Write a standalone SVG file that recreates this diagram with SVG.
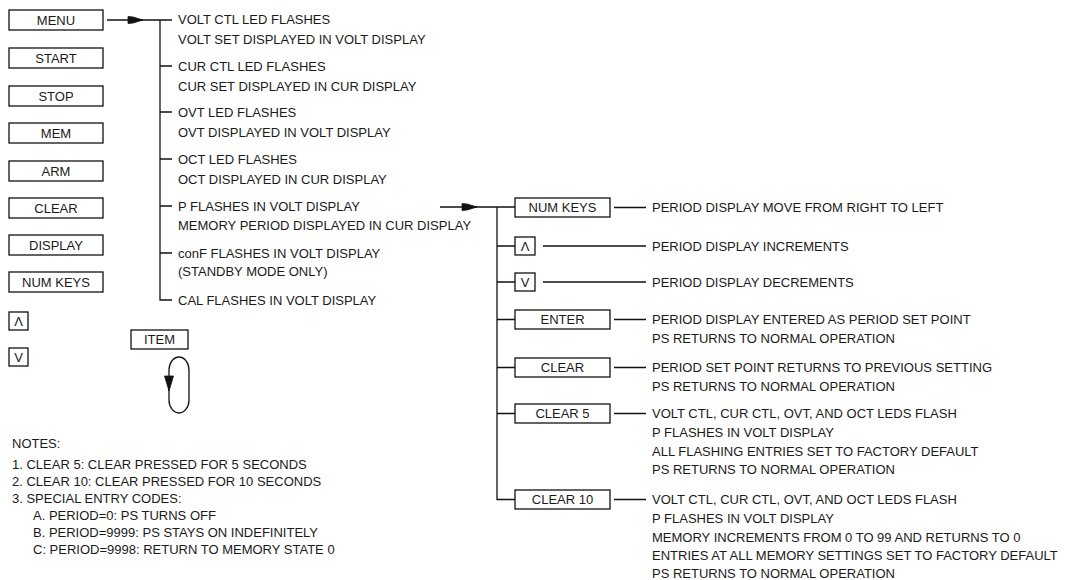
<svg xmlns="http://www.w3.org/2000/svg" width="1065" height="580" viewBox="0 0 1065 580">
<style>
  .t { font-family: "Liberation Sans", Arial, sans-serif; font-size: 13px; fill: #1a1a1a; }
  .c { text-anchor: middle; }
  .b { fill: #ffffff; stroke: #111111; stroke-width: 1.3; }
  .l { fill: none; stroke: #111111; stroke-width: 1.3; }
  .ah { fill: #111111; stroke: #111111; stroke-width: 0.8; }
</style>
<defs>
  <path id="arrowR" d="M-15,-3.5 L-10,-3 L0,0 L-10,3 L-15,3.5 Z"/>
</defs>
<rect width="1065" height="580" fill="#ffffff"/>

<!-- left key column -->
<g id="key-menu"><rect class="b" x="9" y="10" width="94" height="20"/><text class="t c" x="56" y="24.5">MENU</text></g>
<g id="key-start"><rect class="b" x="9" y="48" width="94" height="20"/><text class="t c" x="56" y="62.5">START</text></g>
<g id="key-stop"><rect class="b" x="9" y="86" width="94" height="20"/><text class="t c" x="56" y="100.5">STOP</text></g>
<g id="key-mem"><rect class="b" x="9" y="123" width="94" height="20"/><text class="t c" x="56" y="137.5">MEM</text></g>
<g id="key-arm"><rect class="b" x="9" y="161" width="94" height="20"/><text class="t c" x="56" y="175.5">ARM</text></g>
<g id="key-clear"><rect class="b" x="9" y="198" width="94" height="20"/><text class="t c" x="56" y="212.5">CLEAR</text></g>
<g id="key-display"><rect class="b" x="9" y="235" width="94" height="20"/><text class="t c" x="56" y="249.5">DISPLAY</text></g>
<g id="key-numkeys"><rect class="b" x="9" y="272" width="94" height="20"/><text class="t c" x="56" y="286.5">NUM KEYS</text></g>
<g id="key-up"><rect class="b" x="9" y="312" width="19" height="18"/><text class="t c" x="18.5" y="325.5">Λ</text></g>
<g id="key-down"><rect class="b" x="9" y="348" width="19" height="18"/><text class="t c" x="18.5" y="361.5">V</text></g>

<!-- ITEM key with loop -->
<g id="key-item">
  <rect class="b" x="131" y="330" width="57" height="19"/><text class="t c" x="159.5" y="344">ITEM</text>
  <rect class="l" x="169" y="357" width="20" height="56" rx="10" ry="13"/>
  <polygon class="ah" points="164.5,376 173.5,376 169,391"/>
</g>

<!-- menu items -->
<g id="menu-volt"><text class="t" x="178" y="23.5">VOLT CTL LED FLASHES</text><text class="t" x="178" y="43.5">VOLT SET DISPLAYED IN VOLT DISPLAY</text></g>
<g id="menu-cur"><text class="t" x="178" y="70.5">CUR CTL LED FLASHES</text><text class="t" x="178" y="90.5">CUR SET DISPLAYED IN CUR DISPLAY</text></g>
<g id="menu-ovt"><text class="t" x="178" y="116.5">OVT LED FLASHES</text><text class="t" x="178" y="136.5">OVT DISPLAYED IN VOLT DISPLAY</text></g>
<g id="menu-oct"><text class="t" x="178" y="163.5">OCT LED FLASHES</text><text class="t" x="178" y="183.5">OCT DISPLAYED IN CUR DISPLAY</text></g>
<g id="menu-p"><text class="t" x="178" y="210.5">P FLASHES IN VOLT DISPLAY</text><text class="t" x="178" y="230">MEMORY PERIOD DISPLAYED IN CUR DISPLAY</text></g>
<g id="menu-conf"><text class="t" x="178" y="257.5">conF FLASHES IN VOLT DISPLAY</text><text class="t" x="178" y="275.5">(STANDBY MODE ONLY)</text></g>
<g id="menu-cal"><text class="t" x="178" y="304.5">CAL FLASHES IN VOLT DISPLAY</text></g>

<!-- period keys -->
<g id="p-numkeys"><rect class="b" x="515" y="198" width="95" height="19"/><text class="t c" x="562.5" y="212">NUM KEYS</text>
  <text class="t" x="652" y="212">PERIOD DISPLAY MOVE FROM RIGHT TO LEFT</text></g>
<g id="p-up"><rect class="b" x="515" y="237" width="20" height="18"/><text class="t c" x="525" y="250.5">Λ</text>
  <text class="t" x="652" y="250.5">PERIOD DISPLAY INCREMENTS</text></g>
<g id="p-down"><rect class="b" x="515" y="273" width="20" height="18"/><text class="t c" x="525" y="286.5">V</text>
  <text class="t" x="652" y="286.5">PERIOD DISPLAY DECREMENTS</text></g>
<g id="p-enter"><rect class="b" x="515" y="310" width="95" height="19"/><text class="t c" x="562.5" y="324">ENTER</text>
  <text class="t" x="652" y="324">PERIOD DISPLAY ENTERED AS PERIOD SET POINT</text>
  <text class="t" x="652" y="343">PS RETURNS TO NORMAL OPERATION</text></g>
<g id="p-clear"><rect class="b" x="515" y="358" width="95" height="19"/><text class="t c" x="562.5" y="372">CLEAR</text>
  <text class="t" x="652" y="372">PERIOD SET POINT RETURNS TO PREVIOUS SETTING</text>
  <text class="t" x="652" y="391">PS RETURNS TO NORMAL OPERATION</text></g>
<g id="p-clear5"><rect class="b" x="515" y="404" width="95" height="19"/><text class="t c" x="562.5" y="418">CLEAR 5</text>
  <text class="t" x="652" y="418">VOLT CTL, CUR CTL, OVT, AND OCT LEDS FLASH</text>
  <text class="t" x="652" y="437">P FLASHES IN VOLT DISPLAY</text>
  <text class="t" x="652" y="456">ALL FLASHING ENTRIES SET TO FACTORY DEFAULT</text>
  <text class="t" x="652" y="474">PS RETURNS TO NORMAL OPERATION</text></g>
<g id="p-clear10"><rect class="b" x="515" y="490" width="95" height="19"/><text class="t c" x="562.5" y="504">CLEAR 10</text>
  <text class="t" x="652" y="504">VOLT CTL, CUR CTL, OVT, AND OCT LEDS FLASH</text>
  <text class="t" x="652" y="523">P FLASHES IN VOLT DISPLAY</text>
  <text class="t" x="652" y="542">MEMORY INCREMENTS FROM 0 TO 99 AND RETURNS TO 0</text>
  <text class="t" x="652" y="560">ENTRIES AT ALL MEMORY SETTINGS SET TO FACTORY DEFAULT</text>
  <text class="t" x="652" y="578">PS RETURNS TO NORMAL OPERATION</text></g>

<!-- notes -->
<g id="notes">
  <text class="t" x="12" y="447.5">NOTES:</text>
  <text class="t" x="12" y="468.5">1. CLEAR 5: CLEAR PRESSED FOR 5 SECONDS</text>
  <text class="t" x="12" y="485.5">2. CLEAR 10: CLEAR PRESSED FOR 10 SECONDS</text>
  <text class="t" x="12" y="502.5">3. SPECIAL ENTRY CODES:</text>
  <text class="t" x="33" y="519.5">A. PERIOD=0: PS TURNS OFF</text>
  <text class="t" x="33" y="536.5">B. PERIOD=9999: PS STAYS ON INDEFINITELY</text>
  <text class="t" x="33" y="553.5">C: PERIOD=9998: RETURN TO MEMORY STATE 0</text>
</g>

<!-- connectors -->
<g id="connectors">
  <path class="l" d="M107,20 H172"/>
  <use href="#arrowR" class="ah" x="143" y="20"/>
  <path class="l" d="M160,20 V300 H172"/>
  <path class="l" d="M160,66 H172 M160,112 H172 M160,159 H172 M160,206 H172 M160,253 H172"/>
  <path class="l" d="M440,207 H515"/>
  <use href="#arrowR" class="ah" x="477" y="207"/>
  <path class="l" d="M497,207 V499.5 H515"/>
  <path class="l" d="M497,246 H515 M497,282 H515 M497,319.5 H515 M497,367.5 H515 M497,413.5 H515"/>
  <path class="l" d="M614,207.5 H646 M543,246 H646 M543,282 H646 M614,319.5 H646 M614,367.5 H646 M614,413.5 H646 M614,499.5 H646"/>
</g>
</svg>
